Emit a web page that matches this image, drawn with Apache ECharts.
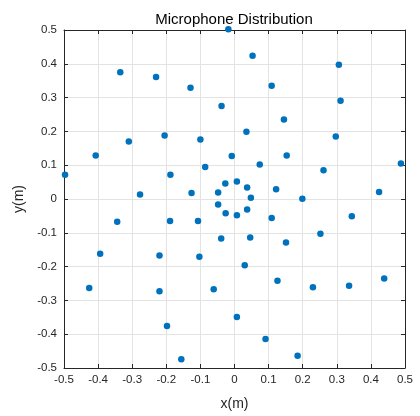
<!DOCTYPE html>
<html>
<head>
<meta charset="utf-8">
<script src="https://cdn.jsdelivr.net/npm/echarts@6/dist/echarts.min.js"></script>
<style>
  html, body { margin: 0; padding: 0; background: #fff; }
  #chart { width: 420px; height: 416px; }
</style>
</head>
<body>
<div id="chart"></div>
<script>
// microphone positions (metres)
const micX = [
  -0.018, -0.335, -0.230, -0.129, -0.038, -0.310, -0.205, -0.100, -0.407, -0.008,
  -0.497, -0.188, -0.086, -0.027, 0.007, -0.277, -0.126, -0.048, 0.053, 0.306,
  0.109, 0.311, 0.145, 0.035, 0.297, 0.153, 0.074, 0.261, 0.488, 0.037,
  0.122, 0.048, 0.199, 0.424, -0.048, -0.026, 0.007, -0.344, -0.189, -0.107,
  -0.039, -0.394, -0.220, -0.103, -0.426, -0.220, -0.061, 0.007, -0.198, -0.156,
  0.037, 0.109, 0.344, 0.046, 0.151, 0.252, 0.030, 0.126, 0.230, 0.336,
  0.439, 0.091, 0.185
];
const micY = [
  0.502, 0.375, 0.361, 0.329, 0.275, 0.170, 0.188, 0.176, 0.129, 0.127,
  0.072, 0.072, 0.095, 0.046, 0.052, 0.013, 0.018, 0.019, 0.424, 0.397,
  0.335, 0.291, 0.235, 0.199, 0.185, 0.129, 0.102, 0.085, 0.105, 0.034,
  0.029, 0.004, 0.001, 0.021, -0.016, -0.042, -0.048, -0.067, -0.065, -0.065,
  -0.117, -0.162, -0.167, -0.171, -0.263, -0.273, -0.267, -0.349, -0.376, -0.474,
  -0.031, -0.056, -0.051, -0.114, -0.129, -0.103, -0.196, -0.242, -0.261, -0.257,
  -0.235, -0.414, -0.464
];
const titleText = "Microphone Distribution";

const points = micX.map((x, i) => [x, micY[i]]);
const font = "Liberation Sans, Arial, sans-serif";
const ink = "#262626";

const chart = echarts.init(document.getElementById("chart"));

function axisBase(extra) {
  return Object.assign({
    type: "value",
    min: -0.5,
    max: 0.5,
    interval: 0.1,
    axisLine: { show: true, onZero: false, lineStyle: { color: ink, width: 1 } },
    axisTick: { show: true, inside: true, length: 4, lineStyle: { color: ink } },
    splitLine: { show: false },
    axisLabel: { show: false }
  }, extra);
}

chart.setOption({
  animation: false,
  backgroundColor: "#fff",
  title: {
    text: titleText,
    left: 229,
    textAlign: "center",
    top: 7,
    textStyle: { fontFamily: font, fontSize: 15, fontWeight: "normal", color: "#000" }
  },
  grid: { left: 64, right: 15, top: 30, bottom: 47 },
  xAxis: [
    axisBase({
      position: "bottom",
      name: "x(m)",
      nameLocation: "middle",
      nameGap: 29,
      nameTextStyle: { fontFamily: font, fontSize: 14, color: ink },
      splitLine: { show: true, lineStyle: { color: "#e3e3e3" } },
      axisLabel: {
        show: true, fontFamily: font, fontSize: 11.5, color: ink, margin: 6,
        formatter: v => +v.toFixed(1) + ""
      }
    }),
    axisBase({ position: "top" })
  ],
  yAxis: [
    axisBase({
      position: "left",
      name: "y(m)",
      nameLocation: "middle",
      nameGap: 38,
      nameTextStyle: { fontFamily: font, fontSize: 14, color: ink },
      splitLine: { show: true, lineStyle: { color: "#e3e3e3" } },
      axisLabel: {
        show: true, fontFamily: font, fontSize: 11.5, color: ink, margin: 7,
        formatter: v => +v.toFixed(1) + ""
      }
    }),
    axisBase({ position: "right" })
  ],
  series: [{
    type: "scatter",
    data: points,
    symbolSize: 6.5,
    itemStyle: { color: "#0072BD", opacity: 1 },
    clip: false
  }]
});
</script>
</body>
</html>
